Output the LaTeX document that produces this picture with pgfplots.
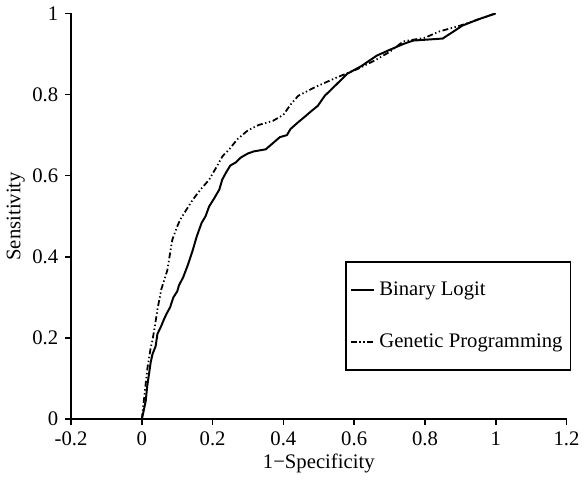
\documentclass[border=0pt]{standalone}
\usepackage{pgfplots}
\pgfplotsset{compat=1.18}
\usepackage{fontspec}
\setmainfont{Liberation Serif}

\begin{document}
\begin{tikzpicture}
\begin{axis}[
  width=251.5pt, height=206pt, scale only axis,
  axis lines=left, axis line style={-, line width=0.9pt},
  xmin=-0.2, xmax=1.2, ymin=0, ymax=1,
  xtick={-0.2,0,0.2,0.4,0.6,0.8,1,1.2},
  xticklabels={-0.2,0,0.2,0.4,0.6,0.8,1,1.2},
  ytick={0,0.2,0.4,0.6,0.8,1},
  yticklabels={0,0.2,0.4,0.6,0.8,1},
  tick align=outside, major tick length=3pt,
  tick style={line width=0.8pt, black},
  ticklabel style={font=\fontsize{10.5}{12}\selectfont},
  label style={font=\fontsize{10.5}{12}\selectfont},
  xlabel={1−Specificity}, ylabel={Sensitivity},
  xlabel style={yshift=3pt}, ylabel style={yshift=-3pt},
  legend style={at={(0.553,0.39)}, anchor=north west, draw=black, line width=0.8pt,
    font=\fontsize{10.5}{12}\selectfont, inner xsep=2pt, inner ysep=8pt,
    row sep=14pt, legend cell align=left},
  legend image code/.code={\draw[#1] (0pt,0pt) -- (12pt,0pt);},
]
\addplot[black, line width=1pt] coordinates {
(0,0) (0.005,0.02) (0.011,0.045) (0.015,0.08) (0.02,0.11) (0.025,0.14) (0.03,0.16)
(0.039,0.18) (0.044,0.21) (0.055,0.23) (0.061,0.243) (0.07,0.26) (0.08,0.276)
(0.089,0.30) (0.1,0.315) (0.105,0.33) (0.117,0.35) (0.13,0.38) (0.144,0.417)
(0.155,0.45) (0.169,0.484) (0.18,0.5) (0.19,0.524) (0.205,0.545) (0.219,0.566)
(0.227,0.59) (0.238,0.608) (0.25,0.625) (0.266,0.633) (0.28,0.645) (0.3,0.655)
(0.317,0.66) (0.35,0.665) (0.37,0.68) (0.39,0.695) (0.41,0.70) (0.42,0.715)
(0.442,0.732) (0.46,0.745) (0.48,0.76) (0.497,0.772) (0.517,0.797) (0.55,0.825)
(0.58,0.851) (0.62,0.87) (0.664,0.896) (0.7,0.91) (0.74,0.925) (0.767,0.933)
(0.8,0.935) (0.85,0.938) (0.88,0.955) (0.906,0.97) (0.95,0.985) (1,1)
};
\addlegendentry{Binary Logit}
\addplot[black, line width=0.9pt, dash pattern=on 3pt off 1.3pt on 0.7pt off 1.3pt on 0.7pt off 1.3pt] coordinates {
(0,0) (0.005,0.04) (0.01,0.08) (0.016,0.127) (0.025,0.176) (0.03,0.194) (0.037,0.23)
(0.044,0.27) (0.055,0.32) (0.072,0.367) (0.08,0.41) (0.086,0.442) (0.1,0.475)
(0.108,0.491) (0.125,0.515) (0.144,0.541) (0.165,0.565) (0.19,0.59) (0.21,0.62)
(0.228,0.648) (0.247,0.665) (0.27,0.69) (0.3,0.712) (0.33,0.725) (0.37,0.735)
(0.4,0.75) (0.42,0.775) (0.442,0.797) (0.489,0.818) (0.553,0.843) (0.61,0.863)
(0.66,0.885) (0.7,0.905) (0.739,0.931) (0.8,0.94) (0.839,0.955) (0.9,0.97)
(0.95,0.985) (1,1)
};
\addlegendentry{Genetic Programming}
\end{axis}
\end{tikzpicture}
\end{document}
